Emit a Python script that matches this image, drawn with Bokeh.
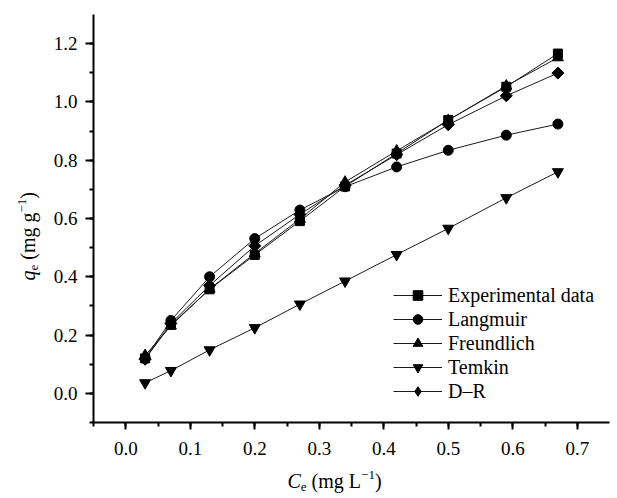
import math
from bokeh.plotting import figure
from bokeh.layouts import row, column
from bokeh.models import (Range1d, SingleIntervalTicker, NumeralTickFormatter,
                          Legend, LegendItem, Label)
from bokeh.embed import file_html
from bokeh.resources import INLINE

# ---------------- data ----------------
ce = [0.03, 0.07, 0.13, 0.20, 0.27, 0.34, 0.42, 0.50, 0.59, 0.67]
experimental = [0.120, 0.235, 0.357, 0.475, 0.591, 0.710, 0.823, 0.938, 1.052, 1.166]
langmuir = [0.120, 0.250, 0.400, 0.531, 0.629, 0.709, 0.777, 0.834, 0.886, 0.924]
freundlich = [0.130, 0.232, 0.358, 0.480, 0.598, 0.725, 0.832, 0.937, 1.055, 1.152]
temkin = [0.036, 0.078, 0.149, 0.225, 0.306, 0.385, 0.476, 0.566, 0.671, 0.760]
dr = [0.117, 0.240, 0.370, 0.506, 0.614, 0.714, 0.819, 0.922, 1.021, 1.099]
series_names = ["Experimental data", "Langmuir", "Freundlich", "Temkin", "D\u2013R"]

# ---------------- layout constants ----------------
XMIN, XMAX = -0.05, 0.75
YMIN, YMAX = -0.1, 1.3
W, H = 617, 498
YW = 45          # width of the strip holding the y title
XH = 34          # height of the strip holding the x title
MW, MH = W - YW, H - XH
FL, FR, FT, FB = 93, 609, 14, 422   # frame edges in page pixels
FONT = "Times New Roman"
FS = 20
TICK_FS = 19

p = figure(width=MW, height=MH, output_backend="svg", toolbar_location=None,
           x_range=Range1d(XMIN, XMAX), y_range=Range1d(YMIN, YMAX),
           min_border_left=FL - YW, min_border_right=W - FR,
           min_border_top=FT, min_border_bottom=MH - FB)
p.outline_line_color = None
p.grid.visible = False
p.background_fill_color = "white"
p.border_fill_color = "white"

xax = p.xaxis[0]
yax = p.yaxis[0]
xax.ticker = SingleIntervalTicker(interval=0.1, num_minor_ticks=2)
yax.ticker = SingleIntervalTicker(interval=0.2, num_minor_ticks=2)
for ax in (xax, yax):
    ax.formatter = NumeralTickFormatter(format="0.0")
    ax.axis_line_width = 2
    ax.axis_line_color = "black"
    ax.major_tick_line_width = 2
    ax.minor_tick_line_width = 2
    ax.major_tick_line_color = "black"
    ax.minor_tick_line_color = "black"
    ax.major_tick_in = 0
    ax.minor_tick_in = 0
    ax.major_label_text_font = FONT
    ax.major_label_text_font_size = f"{TICK_FS}px"
    ax.major_label_text_font_style = "normal"
    ax.major_label_text_color = "black"
xax.major_tick_out = 7
xax.minor_tick_out = 4
xax.major_label_standoff = 12
yax.major_tick_out = 8
yax.minor_tick_out = 4
yax.major_label_standoff = 8

markers = [("square", 9, 0.0), ("circle", 10, 0.0), ("triangle", 11, 0.0),
           ("inverted_triangle", 11, 0.0), ("square", 8.5, math.pi / 4)]
legend_markers = ["square", "circle", "triangle", "inverted_triangle", "diamond"]
all_series = [experimental, langmuir, freundlich, temkin, dr]

items = []
for name, ys, (mk, sz, ang), lmk in zip(series_names, all_series, markers, legend_markers):
    ln = p.line(ce, ys, line_color="#1a1a1a", line_width=1)
    sc = p.scatter(ce, ys, marker=mk, size=sz, angle=ang,
                   fill_color="black", line_color="black")
    if lmk == mk:
        items.append(LegendItem(label=name, renderers=[ln, sc]))
    else:
        tw = p.scatter(ce, ys, marker=lmk, size=sz, fill_color="black",
                       line_color="black", visible=False)
        items.append(LegendItem(label=name, renderers=[ln, tw]))

legend = Legend(items=items, location=(393 - FL, FB - 403), margin=0, padding=0,
                spacing=0, glyph_width=49, glyph_height=24, label_height=24,
                label_standoff=6, label_text_font=FONT,
                label_text_font_size=f"{FS}px", label_text_color="black",
                border_line_alpha=0, background_fill_alpha=0,
                inactive_fill_alpha=0, click_policy="none")
p.add_layout(legend)


# ---------------- title strips ----------------
def strip(w, h):
    f = figure(width=w, height=h, output_backend="svg", toolbar_location=None,
               x_axis_location=None, y_axis_location=None, min_border=0,
               x_range=Range1d(0, 1), y_range=Range1d(0, 1))
    f.outline_line_color = None
    f.grid.visible = False
    f.background_fill_color = "white"
    f.border_fill_color = "white"
    return f


ystrip = strip(YW, H)
xstrip = strip(MW, XH)

# advance widths (em) for a Times-metric font
EM = {"C": 0.667, "e": 0.444, " ": 0.25, "\u00a0": 0.25, "(": 0.333,
      "m": 0.778, "g": 0.5, "L": 0.611, "\u2212": 0.564, "1": 0.5,
      ")": 0.333, "q": 0.5}


def wid(s, size):
    return sum(EM.get(c, 0.5) for c in s) * size


DROP = 0.33   # observed baseline offset of Label text (fraction of font size)


def piece(fig, fx, fbottom, text, px, py, size, italic=False, angle=0.0):
    # px, py: page pixels; fx: page x of the strip frame's left edge;
    # fbottom: page y of the strip frame's bottom edge
    fig.add_layout(Label(x=px - fx, y=fbottom - py, x_units="screen",
                         y_units="screen", text=text, angle=angle,
                         text_font=FONT, text_font_size=f"{size}px",
                         text_font_style="italic" if italic else "normal",
                         text_color="black", text_align="left",
                         text_baseline="alphabetic"))


SUB = 13
# x title: C_e (mg L^-1); the strip frame is aligned with the main frame
x0, base = 287, 487
pieces_x = [("C", FS, True, 0), ("e", SUB, False, 4),
            ("\u00a0(mg\u00a0L", FS, False, 0),
            ("\u22121", SUB, False, -8), (")", FS, False, 0)]
cx = x0
for t, s, it, dy in pieces_x:
    piece(xstrip, FL, H, t, cx, base + dy - DROP * s, s, it)
    cx += wid(t, s)

# y title: q_e (mg g^-1), rotated
y0, basex = 280, 34
pieces_y = [("q", FS, True, 0), ("e", SUB, False, 4),
            ("\u00a0(mg\u00a0g", FS, False, 0),
            ("\u22121", SUB, False, -8), (")", FS, False, 0)]
cy = y0
for t, s, it, dx in pieces_y:
    piece(ystrip, 0, H, t, basex + dx - DROP * s, cy, s, it, angle=math.pi / 2)
    cy -= wid(t, s)

layout = row(ystrip, column(p, xstrip, spacing=0), spacing=0)
open("out.html", "w").write(file_html(layout, INLINE))
